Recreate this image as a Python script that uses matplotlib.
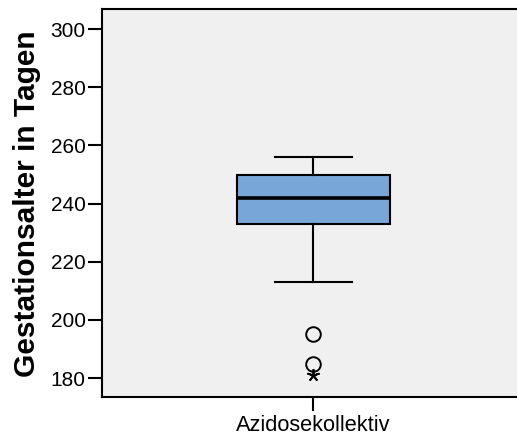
import matplotlib
matplotlib.use('Agg')
import matplotlib.pyplot as plt

plt.rcParams['font.family'] = ['Liberation Sans', 'DejaVu Sans']

# Werte
gruppe = ['Azidosekollektiv']
unterer_whisker = [213]
q1 = [233]
median = [242]
q3 = [250]
oberer_whisker = [256]
ausreisser = [195, 185]      # Kreise
extremwerte = [181]          # Stern

fig = plt.figure(figsize=(5.17, 4.37), dpi=100)
ax = fig.add_axes([0.1967, 0.0915, 0.819, 0.887])
ax.set_facecolor('#f0f0f0')

stats = [{
    'label': gruppe[0],
    'whislo': unterer_whisker[0],
    'q1': q1[0],
    'med': median[0],
    'q3': q3[0],
    'whishi': oberer_whisker[0],
    'fliers': [],
}]

ax.bxp(stats, positions=[1], widths=0.363, patch_artist=True,
       showfliers=False, capwidths=[0.181],
       boxprops=dict(facecolor='#79a6d8', edgecolor='black', linewidth=1.5),
       medianprops=dict(color='black', linewidth=2.6),
       whiskerprops=dict(color='black', linewidth=1.5),
       capprops=dict(color='black', linewidth=1.5))

# Ausreisser und Extremwerte
ax.plot([1] * len(ausreisser), ausreisser, linestyle='none', marker='o',
        markersize=10.5, markerfacecolor='none', markeredgecolor='black',
        markeredgewidth=1.4)
ax.plot([1] * len(extremwerte), extremwerte, linestyle='none', marker=(5, 2),
        markersize=9, color='black', markeredgewidth=1.3)

ax.set_xlim(0.5, 1.5)
ax.set_ylim(173.5, 306.8)
ax.set_yticks([180, 200, 220, 240, 260, 280, 300])

for s in ['top', 'left', 'bottom', 'right']:
    ax.spines[s].set_linewidth(1.5)

ax.tick_params(axis='both', length=10, width=1.5, labelsize=15, pad=1.5)
ax.tick_params(axis='x', labelsize=15.7, pad=3)
ax.set_ylabel('Gestationsalter in Tagen', fontsize=21.5, fontweight='bold',
              labelpad=7)

fig.savefig('out.png', dpi=100)
